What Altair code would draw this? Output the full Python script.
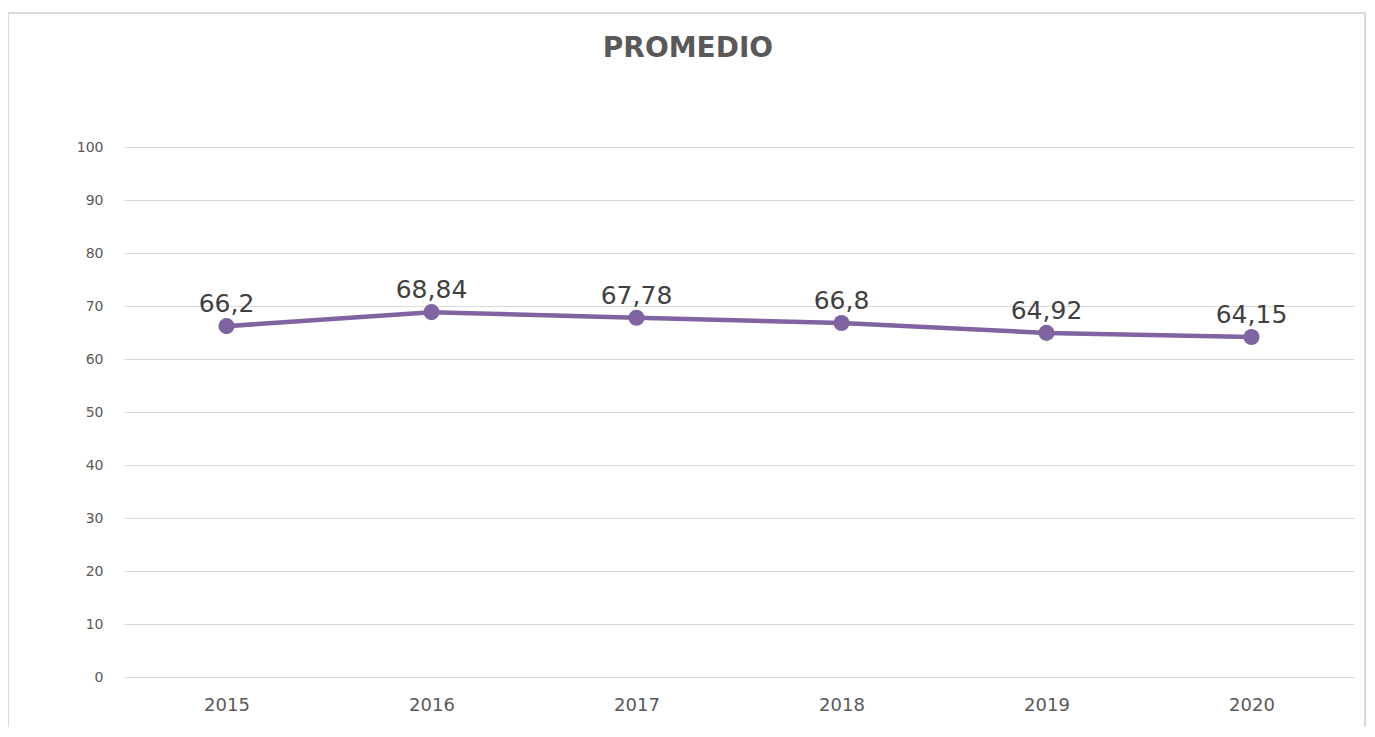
import altair as alt
import pandas as pd

years = ["2015", "2016", "2017", "2018", "2019", "2020"]
promedio = [66.2, 68.84, 67.78, 66.8, 64.92, 64.15]

df = pd.DataFrame({
    "year": years,
    "value": promedio,
    "label": [str(v).replace(".", ",") for v in promedio],
})

FONT = "DejaVu Sans"

x = alt.X("year:O", title=None, sort=years,
          scale=alt.Scale(type="point", padding=0.5),
          axis=alt.Axis(labelAngle=0, labelFontSize=18, labelColor="#595959",
                        labelFont=FONT, ticks=False, domain=False, labelPadding=19,
                        grid=False))
y = alt.Y("value:Q", title=None,
          scale=alt.Scale(domain=[0, 100], nice=False),
          axis=alt.Axis(values=list(range(0, 101, 10)), labelFontSize=14,
                        labelColor="#595959", labelFont=FONT, ticks=False,
                        domain=False, labelPadding=21, gridColor="#d9d9d9",
                        gridWidth=1))

base = alt.Chart(df)

border = base.mark_rect(fill=None, stroke="#d9d9d9", strokeWidth=2).encode(
    x=alt.value(-116), x2=alt.value(1241), y=alt.value(-134), y2=alt.value(600)
).transform_filter(alt.datum.year == "2015")

line = base.mark_line(color="#8064A2", strokeWidth=4.5).encode(x=x, y=y)
points = base.mark_circle(color="#8064A2", size=260, opacity=1).encode(x=x, y=y)
labels = base.mark_text(fontSize=25, font=FONT, color="#404040", dy=-14,
                        baseline="alphabetic").encode(x=x, y=y, text="label:N")

chart = alt.layer(border, line, points, labels).properties(
    width=1230,
    height=530,
    autosize=alt.AutoSizeParams(type="none"),
    padding={"left": 116, "top": 139, "right": 12, "bottom": 50},
    title=alt.TitleParams("PROMEDIO", font=FONT, fontSize=28, fontWeight="bold",
                          color="#595959", anchor="middle", frame="group",
                          dx=-51, offset=-73, baseline="alphabetic"),
).configure_view(stroke=None)

chart.save("out.html", embed_options={"renderer": "svg", "actions": False})
